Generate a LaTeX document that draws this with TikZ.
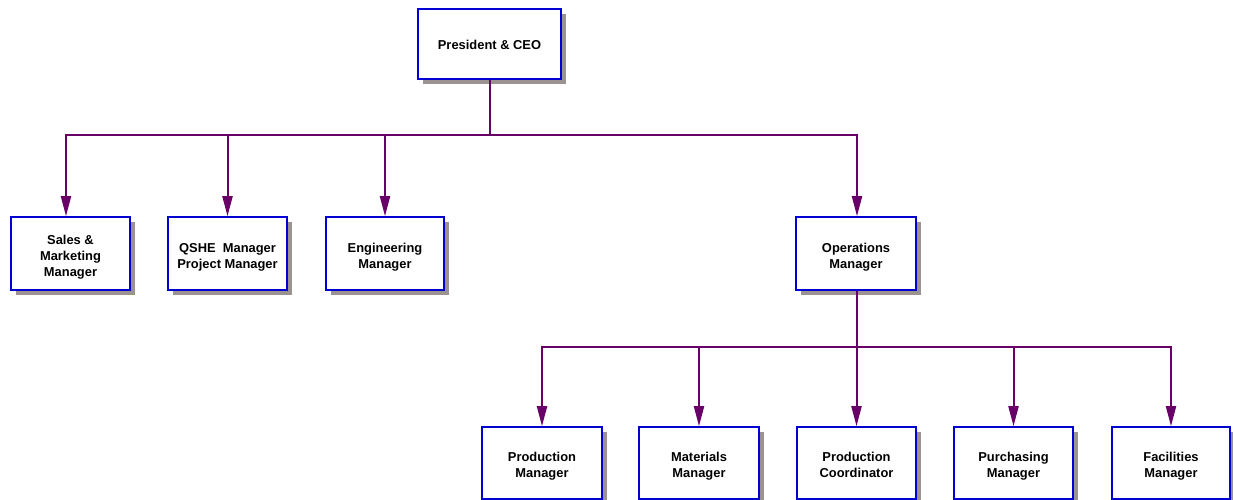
\documentclass[tikz,border=0pt]{standalone}
\usepackage{fontspec}
\setmainfont{Liberation Sans}
\usetikzlibrary{arrows.meta,shadows}
\definecolor{linkpurple}{RGB}{104,0,104}
\definecolor{boxblue}{RGB}{0,0,210}
\definecolor{shadowgray}{RGB}{155,146,146}
\begin{document}
\begin{tikzpicture}[x=1pt,y=-1pt,
  box/.style={draw=boxblue, line width=1.6pt, fill=white, minimum width=118pt, minimum height=72pt,
    inner sep=0pt,
    drop shadow={shadow xshift=5pt, shadow yshift=-5pt, fill=shadowgray, opacity=1}},
  boxtext/.style={align=center, inner sep=0pt, yshift=-3.5pt, font=\fontsize{12.9}{16}\selectfont\bfseries},
  link/.style={draw=linkpurple, line width=2pt},
  arr/.style={link, -{Triangle[length=20pt,width=10pt]}}]
\useasboundingbox (0,0) rectangle (1233,500);
% top
\node[box, minimum width=143pt, minimum height=70pt, label={[boxtext, yshift=3pt]center:{President \& CEO}}] (ceo) at (489.5,44) {};
% middle row
\node[box, minimum height=73pt, minimum width=119pt, label={[boxtext]center:{Sales \&\\Marketing\\Manager}}] (sales) at (70.5,253.5) {};
\node[box, minimum height=73pt, minimum width=119pt, label={[boxtext]center:{QSHE~~Manager\\Project Manager}}] (qshe) at (227.5,253.5) {};
\node[box, minimum height=73pt, label={[boxtext]center:{Engineering\\Manager}}] (eng) at (385,253.5) {};
\node[box, minimum height=73pt, minimum width=120pt, label={[boxtext]center:{Operations\\Manager}}] (ops) at (856,253.5) {};
% bottom row
\node[box, minimum width=120pt, label={[boxtext]center:{Production\\Manager}}] (prod) at (542,463) {};
\node[box, minimum width=120pt, label={[boxtext]center:{Materials\\Manager}}] (mat) at (699,463) {};
\node[box, minimum width=119pt, label={[boxtext, yshift=2pt]center:{Production\\Coordinator}}] (coord) at (856.5,463) {};
\node[box, minimum width=119pt, label={[boxtext]center:{Purchasing\\Manager}}] (purch) at (1013.5,463) {};
\node[box, label={[boxtext]center:{Facilities\\Manager}}] (fac) at (1171,463) {};
% connectors level 1
\draw[link] (ceo.south) -- ++(0,55) coordinate (bus1);
\draw[arr] (bus1) -| ([xshift=-4.5pt]sales.north);
\draw[arr] (bus1) -| (qshe.north);
\draw[arr] (bus1) -| (eng.north);
\draw[arr] (bus1) -| ([xshift=1pt]ops.north);
% connectors level 2
\draw[link] ([xshift=1pt]ops.south) -- ++(0,56) coordinate (bus2);
\draw[arr] (bus2) -| (prod.north);
\draw[arr] (bus2) -| (mat.north);
\draw[arr] (bus2) -| (coord.north);
\draw[arr] (bus2) -| (purch.north);
\draw[arr] (bus2) -| (fac.north);
\end{tikzpicture}
\end{document}
